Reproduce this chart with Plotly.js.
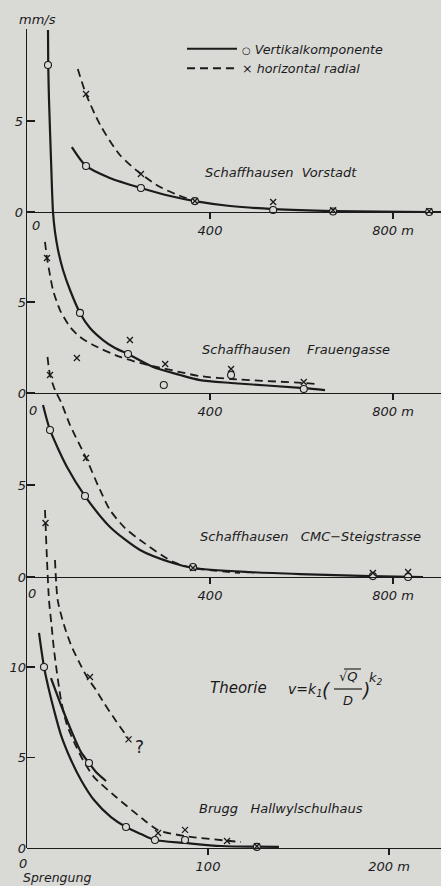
<!DOCTYPE html>
<html><head><meta charset="utf-8">
<script src="https://cdn.plot.ly/plotly-3.0.1.min.js"></script>
<style>html,body{margin:0;padding:0;background:#d9d9d6;}#chart{width:441px;height:886px;}</style>
</head><body><div id="chart"></div>
<script>
// ---------- DATA (distance m, velocity mm/s) ----------
// Panel 1: Schaffhausen Vorstadt
const vorSolidX = [98,129,181,249,313,367,444,538,669,879,905];
const vorSolidY = [3.57,2.53,1.87,1.32,0.88,0.60,0.33,0.16,0.05,0.0,0.0];
const vorDashX  = [111,129,160,203,249,291,330,367];
const vorDashY  = [7.86,6.48,4.78,3.13,2.09,1.37,0.93,0.60];
const vorCircX  = [129,249,367,538,669,879];
const vorCircY  = [2.53,1.32,0.60,0.11,0.03,0.0];
const vorCrossX = [129,249,367,538,669,879];
const vorCrossY = [6.48,2.09,0.60,0.55,0.10,0.05];
// Panel 2: Schaffhausen Frauengasse
const frSolidX = [45.9,46.4,48.1,52.5,56.8,61.2,67.8,78.7,94.0,115.8,137.7,166.1,192.3,220.8,275.4,334.4,378.1,445.9,605.5,651.4];
const frSolidY = [19.95,18.02,16.1,12.8,9.95,8.85,7.86,6.76,5.66,4.40,3.57,2.91,2.47,2.14,1.43,0.99,0.71,0.55,0.27,0.16];
const frDashX  = [39.3,43.7,50.3,56.8,72.1,94.0,115.8,144.3,203.3,247,275.4,334.4,378,446,605.5,636];
const frDashY  = [8.30,7.42,6.48,5.66,4.56,3.63,3.08,2.64,1.98,1.65,1.48,1.15,0.93,0.77,0.55,0.49];
const frCircX  = [45.9,115.8,220.8,299,446,605];
const frCircY  = [18.02,4.40,2.14,0.44,0.99,0.22];
const frCrossX = [43.7,109,225,302,446,605];
const frCrossY = [7.42,1.92,2.91,1.59,1.32,0.60];
// Panel 3: Schaffhausen CMC-Steigstrasse
const cmcSolidX = [35,50.3,87.4,126.8,181.4,247,319,362.8,487,596.7,749.7,865.6];
const cmcSolidY = [9.35,7.99,5.98,4.40,2.72,1.47,0.76,0.49,0.27,0.16,0.05,0.0];
const cmcDashX  = [44.8,50.3,61.2,74.3,94.0,129,159.6,181.4,214.2,247,319,362.8,465.6];
const cmcDashY  = [11.96,10.98,10.16,9.51,8.26,6.47,4.73,3.64,2.66,2.01,0.82,0.49,0.22];
const cmcCircX  = [50.3,126.8,362.8,756,833];
const cmcCircY  = [7.99,4.40,0.54,0.05,0.0];
const cmcCrossX = [50.3,129,362.8,756,833];
const cmcCrossY = [10.98,6.47,0.49,0.22,0.27];
// Panel 4: Brugg Hallwylschulhaus
const brSolid1X = [6.63,9.39,12.15,14.92,18.78,24.31,29.83,37.02,46.4,54.7,63.0,70.7,87.3,107.2,139.2];
const brSolid1Y = [11.88,10.0,8.73,7.62,6.24,4.86,3.76,2.65,1.71,1.16,0.77,0.44,0.28,0.11,0.06];
const brSolid2X = [13.26,18.78,24.31,29.83,34.25,38.67,43.65];
const brSolid2Y = [9.39,7.90,6.52,5.30,4.70,4.14,3.70];
const brDash1X  = [9.94,10.22,11.05,12.15,13.54,14.92,18.78,22.1,25.97,30.94,37.02,49.17,64.64,72.4,87.3,118.2];
const brDash1Y  = [18.67,17.96,15.91,13.70,12.32,10.94,8.18,6.80,5.86,4.86,3.92,2.82,1.55,0.99,0.66,0.33];
const brDash2X  = [15.47,16.96,20.44,24.31,28.73,33.15,38.12,42.54,49.17,55.8];
const brDash2Y  = [15.91,13.70,12.32,11.22,10.28,9.45,8.73,8.01,7.02,6.08];
const brCircX   = [9.39,34.25,54.7,70.7,87.3,127];
const brCircY   = [10.0,4.70,1.16,0.44,0.44,0.06];
const brCrossX  = [10.22,34.8,56.1,72.4,87.3,110.5,127];
const brCrossY  = [17.96,9.45,6.0,0.83,1.0,0.39,0.1];
// Tick labels
const distTicks = [400,800];
const distTickText = ['400','800 m'];
const bruggTicks = [100,200];
const bruggTickText = ['100','200 m'];

// ---------- STYLE ----------
const BG = '#d9d9d6';
const INK = '#1b1b1b';
const FONT = 'DejaVu Sans';
const W = 441, H = 886, ML = 27;
const PW = W - ML;
const px = x => (x - ML) / PW;
const py = y => 1 - y / H;
const yTop = 29, yBot = 848;
const dom = [py(yBot), py(yTop)];
function yRange(zeroPx, scale){ return [(zeroPx - yBot)/scale, (zeroPx - yTop)/scale]; }

const solid = {color: INK, width: 2.2, shape: 'spline', smoothing: 0.7};
const dashed = {color: INK, width: 1.8, dash: '8px,5px', shape: 'spline', smoothing: 0.7};
const circ = {symbol: 'circle', size: 7, color: BG, line: {color: INK, width: 1.1}};
const cross = {symbol: 'x-thin-open', size: 6, color: INK, line: {color: INK, width: 1.3}};

function lineTr(x, y, l, xa, ya, name, leg){
  return {type:'scatter', mode:'lines', x, y, line:l, xaxis:xa, yaxis:ya, name:name||'', showlegend:!!leg, hoverinfo:'skip'};
}
function markTr(x, y, m, xa, ya){
  return {type:'scatter', mode:'markers', x, y, marker:m, xaxis:xa, yaxis:ya, showlegend:false, hoverinfo:'skip', cliponaxis:false};
}

const traces = [
  lineTr(vorSolidX, vorSolidY, solid, 'x', 'y', '<span style="font-size:10px">○</span> Vertikalkomponente', true),
  lineTr(vorDashX, vorDashY, dashed, 'x', 'y', '× horizontal radial', true),
  markTr(vorCircX, vorCircY, circ, 'x', 'y'),
  markTr(vorCrossX, vorCrossY, cross, 'x', 'y'),

  lineTr(frSolidX, frSolidY, solid, 'x2', 'y2'),
  lineTr(frDashX, frDashY, dashed, 'x2', 'y2'),
  markTr(frCircX, frCircY, circ, 'x2', 'y2'),
  markTr(frCrossX, frCrossY, cross, 'x2', 'y2'),

  lineTr(cmcSolidX, cmcSolidY, solid, 'x3', 'y3'),
  lineTr(cmcDashX, cmcDashY, dashed, 'x3', 'y3'),
  markTr(cmcCircX, cmcCircY, circ, 'x3', 'y3'),
  markTr(cmcCrossX, cmcCrossY, cross, 'x3', 'y3'),

  lineTr(brSolid1X, brSolid1Y, solid, 'x4', 'y4'),
  lineTr(brSolid2X, brSolid2Y, solid, 'x4', 'y4'),
  lineTr(brDash1X, brDash1Y, dashed, 'x4', 'y4'),
  lineTr(brDash2X, brDash2Y, dashed, 'x4', 'y4'),
  markTr(brCircX, brCircY, circ, 'x4', 'y4'),
  markTr(brCrossX, brCrossY, cross, 'x4', 'y4')
];

const tickFont = {family: FONT, size: 13, color: INK, style: 'italic'};
function xAx(range, pos, tv, tt, over){
  const a = {domain:[0,1], range, anchor:'free', position:pos, tickvals:tv, ticktext:tt,
    ticks:'outside', ticklen:6, tickwidth:1.2, tickcolor:INK, showline:true, linecolor:INK, linewidth:1.4,
    showgrid:false, zeroline:false, tickfont:tickFont, fixedrange:true};
  if(over) a.overlaying = over;
  return a;
}
function yAx(range, tv, tt, anchor, over, line){
  const a = {domain:dom, range, anchor, tickvals:tv, ticktext:tt, ticks:'inside', ticklen:8, tickwidth:1.2,
    tickcolor:INK, showline:!!line, linecolor:INK, linewidth:1.4, showgrid:false, zeroline:false,
    tickfont:tickFont, fixedrange:true};
  if(over) a.overlaying = over;
  return a;
}
const distRange = [0, PW/0.4575];
const bruggRange = [0, PW/1.81];

const Z1 = 212, Z2 = 393, Z3 = 577, Z4 = 848;

const f = (s) => ({family:FONT, size:s, color:INK, style:'italic'});
function ann(text, x, y, o){
  return Object.assign({text, xref:'paper', yref:'paper', x:px(x), y:py(y), showarrow:false,
    xanchor:'left', yanchor:'middle', font:f(13)}, o||{});
}
const sp = n => '\u00a0'.repeat(n);

const layout = {
  width:W, height:H, margin:{l:ML, r:0, t:0, b:0},
  paper_bgcolor:BG, plot_bgcolor:'rgba(0,0,0,0)',
  showlegend:true,
  legend:{x:px(182), y:py(34), xanchor:'left', yanchor:'top', bgcolor:'rgba(0,0,0,0)',
    font:f(12.7), itemwidth:50, tracegroupgap:0},
  xaxis:  xAx(distRange, py(Z1), distTicks, distTickText),
  xaxis2: xAx(distRange, py(Z2), distTicks, distTickText, 'x'),
  xaxis3: xAx(distRange, py(Z3), distTicks, distTickText, 'x'),
  xaxis4: xAx(bruggRange, py(Z4), bruggTicks, bruggTickText, 'x'),
  yaxis:  yAx(yRange(Z1, 18.2), [0,5,10], ['0','5',' '], 'x', null, true),
  yaxis2: yAx(yRange(Z2, 18.2), [0,5], ['0','5'], 'x2', 'y'),
  yaxis3: yAx(yRange(Z3, 18.4), [0,5], ['0','5'], 'x3', 'y'),
  yaxis4: yAx(yRange(Z4, 18.1), [0,5,10], ['0','5','10'], 'x4', 'y'),
  annotations:[
    ann('mm/s', 37, 19, {xanchor:'center'}),
    ann('0', 36, 226, {xanchor:'center'}),
    ann('0', 33, 410, {xanchor:'center'}),
    ann('0', 32, 593, {xanchor:'center'}),
    ann('0', 23, 863, {xanchor:'center'}),
    ann('Schaffhausen' + sp(2) + 'Vorstadt', 203, 172),
    ann('Schaffhausen' + sp(4) + 'Frauengasse', 200, 349),
    ann('Schaffhausen' + sp(3) + 'CMC\u2212Steigstrasse', 198, 536),
    ann('Brugg' + sp(3) + 'Hallwylschulhaus', 197, 808),
    ann('Theorie', 208, 688, {font:f(15)}),
    ann('v=k<sub>1</sub>', 286, 690, {font:f(14)}),
    ann('(', 320, 690, {font:f(19)}),
    ann('√Q', 348, 676, {xanchor:'center'}),
    ann('D', 348, 700, {xanchor:'center'}),
    ann(')', 359, 690, {font:f(19)}),
    ann('k<sub>2</sub>', 367, 678),
    ann('?', 133, 747, {font:{family:FONT, size:17, color:INK}}),
    ann('Sprengung', 21, 877, {font:f(12.5)})
  ],
  shapes:[
    {type:'line', xref:'paper', yref:'paper', x0:px(334), x1:px(362), y0:py(689), y1:py(689), line:{color:INK, width:1.2}},
    {type:'line', xref:'paper', yref:'paper', x0:px(344), x1:px(361), y0:py(669), y1:py(669), line:{color:INK, width:1.1}}
  ]
};

Plotly.newPlot('chart', traces, layout, {staticPlot:true, displayModeBar:false});
</script>
</body></html>
